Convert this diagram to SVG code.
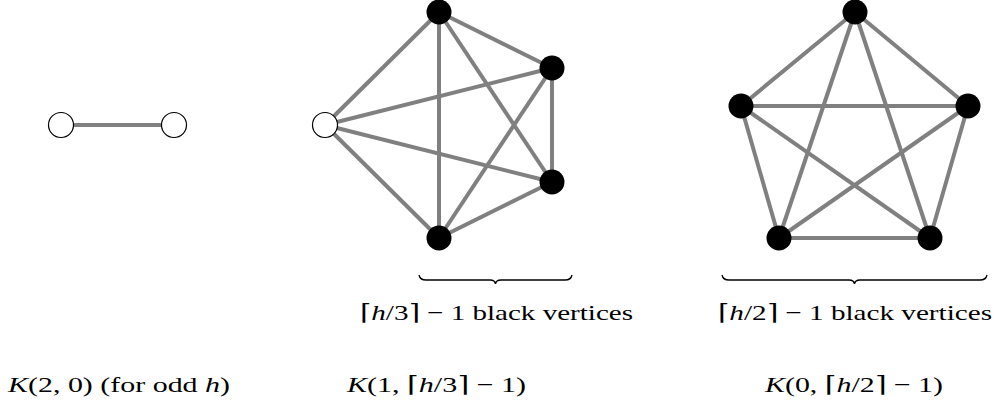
<svg xmlns="http://www.w3.org/2000/svg" width="998" height="412" viewBox="0 0 998 412">
<style>
.e{stroke:#808080;stroke-width:4;fill:none}
.b{fill:#000}
.w{fill:#fff;stroke:#000;stroke-width:1.2}
.t{font-family:"Liberation Serif","DejaVu Serif",serif;font-size:22px;fill:#000}
.i{font-style:italic}
.br{fill:none;stroke:#000;stroke-width:1.3}
</style>
<rect width="998" height="412" fill="#fff"/>
<g id="connectors">
<line class="e" x1="61" y1="125" x2="174" y2="125"/>
<line class="e" x1="325" y1="125" x2="439" y2="12"/>
<line class="e" x1="325" y1="125" x2="552" y2="68"/>
<line class="e" x1="325" y1="125" x2="552" y2="182"/>
<line class="e" x1="325" y1="125" x2="439" y2="238"/>
<line class="e" x1="439" y1="12" x2="552" y2="68"/>
<line class="e" x1="439" y1="12" x2="552" y2="182"/>
<line class="e" x1="439" y1="12" x2="439" y2="238"/>
<line class="e" x1="552" y1="68" x2="552" y2="182"/>
<line class="e" x1="552" y1="68" x2="439" y2="238"/>
<line class="e" x1="552" y1="182" x2="439" y2="238"/>
<line class="e" x1="855" y1="12" x2="741" y2="106"/>
<line class="e" x1="855" y1="12" x2="968" y2="106"/>
<line class="e" x1="855" y1="12" x2="779" y2="238"/>
<line class="e" x1="855" y1="12" x2="930" y2="238"/>
<line class="e" x1="741" y1="106" x2="968" y2="106"/>
<line class="e" x1="741" y1="106" x2="779" y2="238"/>
<line class="e" x1="741" y1="106" x2="930" y2="238"/>
<line class="e" x1="968" y1="106" x2="779" y2="238"/>
<line class="e" x1="968" y1="106" x2="930" y2="238"/>
<line class="e" x1="779" y1="238" x2="930" y2="238"/>
</g>
<g id="k20">
<circle id="k20-a" class="w" cx="61" cy="125" r="12.5"/>
<circle id="k20-b" class="w" cx="174" cy="125" r="12.5"/>
</g>
<g id="k1">
<circle id="k1-w" class="w" cx="325" cy="125" r="12.5"/>
<circle id="k1-a" class="b" cx="439" cy="12" r="12.5"/>
<circle id="k1-b" class="b" cx="552" cy="68" r="12.5"/>
<circle id="k1-c" class="b" cx="552" cy="182" r="12.5"/>
<circle id="k1-d" class="b" cx="439" cy="238" r="12.5"/>
</g>
<g id="k0">
<circle id="k0-t" class="b" cx="855" cy="12" r="12.5"/>
<circle id="k0-l" class="b" cx="741" cy="106" r="12.5"/>
<circle id="k0-r" class="b" cx="968" cy="106" r="12.5"/>
<circle id="k0-bl" class="b" cx="779" cy="238" r="12.5"/>
<circle id="k0-br" class="b" cx="930" cy="238" r="12.5"/>
</g>
<g id="braces">
<path class="br" d="M419,275 Q420,280 426,280 L490,280 Q495,280 495.5,284 Q496,280 501,280 L565,280 Q571,280 572,275"/>
<path class="br" d="M722,275 Q723,280 729,280 L849,280 Q854,280 854.5,284 Q855,280 860,280 L980,280 Q986,280 987,275"/>
</g>
<g id="labels">
<text class="t" x="360" y="320" textLength="273" lengthAdjust="spacingAndGlyphs">⌈<tspan class="i">h</tspan>/3⌉ − 1 black vertices</text>
<text class="t" x="718" y="320" textLength="274" lengthAdjust="spacingAndGlyphs">⌈<tspan class="i">h</tspan>/2⌉ − 1 black vertices</text>
<text class="t" x="8" y="392" textLength="222" lengthAdjust="spacingAndGlyphs"><tspan class="i">K</tspan>(2, 0) (for odd <tspan class="i">h</tspan>)</text>
<text class="t" x="347" y="392" textLength="179" lengthAdjust="spacingAndGlyphs"><tspan class="i">K</tspan>(1, ⌈<tspan class="i">h</tspan>/3⌉ − 1)</text>
<text class="t" x="765" y="392" textLength="178" lengthAdjust="spacingAndGlyphs"><tspan class="i">K</tspan>(0, ⌈<tspan class="i">h</tspan>/2⌉ − 1)</text>
</g>
</svg>
